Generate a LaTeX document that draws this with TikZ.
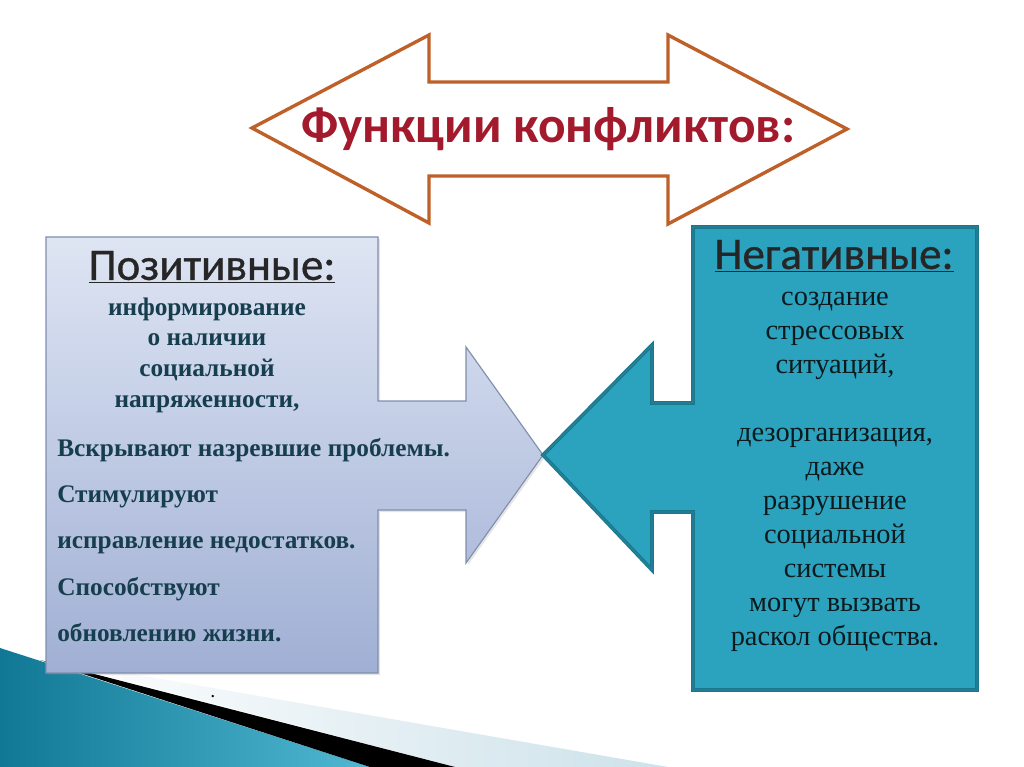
\documentclass[tikz,border=0pt]{standalone}
\usepackage{fontspec}
\setmainfont{Liberation Serif}
\newfontfamily\headfont{Carlito}
\newfontfamily\subheadfont[FakeBold=0.8]{Carlito}
\usetikzlibrary{positioning}

\definecolor{titlered}{RGB}{162,26,44}
\definecolor{arrowbrown}{RGB}{190,96,40}
\definecolor{posborder}{RGB}{128,143,174}
\definecolor{postop}{RGB}{222,229,243}
\definecolor{posbottom}{RGB}{160,175,212}
\definecolor{postext}{RGB}{22,62,78}
\definecolor{negfill}{RGB}{43,163,191}
\definecolor{negborder}{RGB}{28,118,140}
\definecolor{negtext}{RGB}{12,26,30}
\definecolor{tealdark}{RGB}{16,120,148}
\definecolor{teallight}{RGB}{80,184,210}

\tikzset{
  headtext/.style={font=\subheadfont\fontsize{32}{36}\selectfont, text=black!85, inner sep=0pt},
  postextstyle/.style={font=\bfseries\fontsize{18}{21.8}\selectfont, text=postext, inner sep=0pt},
  negtextstyle/.style={font=\fontsize{20.2}{24.2}\selectfont, text=negtext, inner sep=0pt}
}

\begin{document}
\begin{tikzpicture}[x=0.025cm,y=-0.025cm]
	\useasboundingbox (0,0) rectangle (1024,767);
	\fill [white] (0,0) rectangle (1024,767);
	%decoration bottom left
	\shade [left color=tealdark, right color=teallight] (0,648) -- (370,767) -- (0,767) -- cycle;
	\shade [left color=white, right color={rgb,255:red,205;green,226;blue,234}] (40,658) -- (668,767) -- (455,767) -- cycle;
	\fill [black] (40,660) -- (455,767) -- (370,767) -- cycle;
	\node (dot) at (213,697) {\bfseries .};
	%title arrow
	\draw [arrowbrown, line width=2.4pt, line join=miter]
		(252,128) -- (429,35) -- (429,82) -- (668,82) -- (668,35) -- (847,129)
		-- (668,224) -- (668,176) -- (429,176) -- (429,223) -- cycle;
	\node [font=\headfont\bfseries\fontsize{36.5}{40}\selectfont, text=titlered, inner sep=0pt] (title) at (548,129) {Функции конфликтов:};
	%positive
	\fill [gray, opacity=0.2] (48,239) -- (380,239) -- (380,403) -- (468,403) -- (468,349)
		-- (545,457) -- (468,565) -- (468,512) -- (380,512) -- (380,675) -- (48,675) -- cycle;
	\draw [posborder, line width=0.8pt, top color=postop, bottom color=posbottom]
		(46,237) -- (378,237) -- (378,401) -- (466,401) -- (466,347)
		-- (543,455) -- (466,563) -- (466,510) -- (378,510) -- (378,673) -- (46,673) -- cycle;
	\node [headtext] (poshead) at (212,267) {\underline{Позитивные:}};
	\node [postextstyle, align=center] (posinfo) at (207,355)
		{информирование\\ о наличии\\ социальной\\ напряженности,};
	\node [postextstyle, align=left, anchor=west, font=\bfseries\fontsize{18}{32.8}\selectfont] (poslist) at (57,540)
		{Вскрывают назревшие проблемы.\\ Стимулируют\\ исправление недостатков.\\ Способствуют\\ обновлению жизни.};
	%negative
	\draw [negborder, line width=0.8pt, double=negborder!70!negfill, double distance=1pt, fill=negfill, line join=miter]
		(977,227) -- (693,227) -- (693,403) -- (652,403) -- (652,345)
		-- (543,455) -- (652,570) -- (652,512) -- (693,512) -- (693,690) -- (977,690) -- cycle;
	\node [headtext] (neghead) at (834,256) {\underline{Негативные:}};
	\node [negtextstyle, align=center] (neglist) at (835,472)
		{создание\\ стрессовых\\ ситуаций,\\[24.2pt] дезорганизация,\\ даже\\ разрушение\\ социальной\\ системы\\ могут вызвать\\ раскол общества.};
\end{tikzpicture}
\end{document}
